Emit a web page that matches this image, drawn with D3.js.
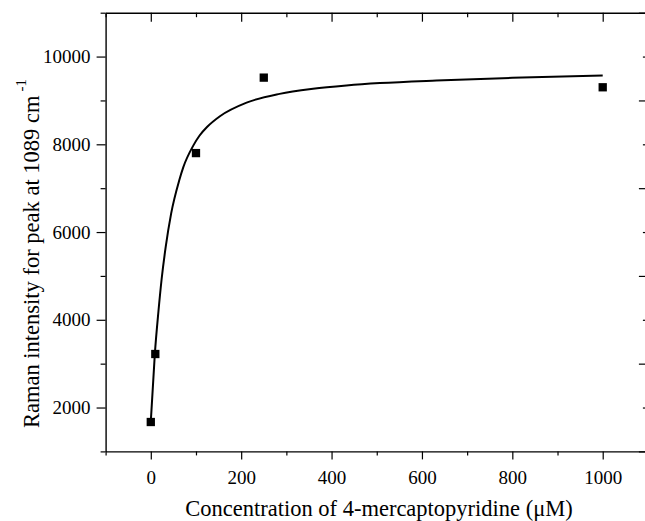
<!DOCTYPE html>
<html>
<head>
<meta charset="utf-8">
<script src="https://cdn.jsdelivr.net/npm/d3@7"></script>
<style>
	body { margin: 0; background: #fff; }
	svg { display: block; }
	svg text { font-family: "Liberation Serif", "Times New Roman", "DejaVu Serif", serif !important; fill: #000; }
</style>
</head>
<body>
<svg id="chart" width="645" height="521"></svg>
<script>
'use strict';

// measured points
var concentration = [0, 10, 100, 250, 1000];
var intensity = [1670, 3220, 7800, 9520, 9300];

// fitted curve
var fitConc = [0, 9, 17, 24, 33, 45, 63, 72, 94, 108, 125, 153, 212, 285, 359, 433, 507, 632, 800, 1000];
var fitIntensity = [1680, 3230, 4200, 4930, 5660, 6420, 7180, 7480, 7970, 8200, 8400, 8640, 8950, 9150, 9265, 9340, 9395, 9455, 9515, 9570];

// ticks
var xMajorTicks = [0, 200, 400, 600, 800, 1000];
var xMinorTicks = [-100, 100, 300, 500, 700, 900, 1100];
var yMajorTicks = [2000, 4000, 6000, 8000, 10000];
var yMinorTicks = [1000, 3000, 5000, 7000, 9000, 11000];

var xTitle = 'Concentration of 4-mercaptopyridine (\u03BCM)';
var yTitle = 'Raman intensity for peak at 1089 cm';

(function(){
	var svg = d3.select('#chart');
	var plotLeft = 105.6, plotRight = 647.9, plotTop = 12.7, plotBottom = 451.4;
	var serif = '"Liberation Serif", "Times New Roman", "DejaVu Serif", serif';

	var x = d3.scaleLinear().domain([-100, 1100]).range([plotLeft, plotRight]);
	var y = d3.scaleLinear().domain([1000, 11000]).range([plotBottom, plotTop]);

	var styleAxis = function(g){
		g.attr('font-family', serif);
		g.select('.domain').attr('stroke', '#000').attr('stroke-width', 1.4);
		g.selectAll('.tick line').attr('stroke', '#000').attr('stroke-width', 1.2);
		g.selectAll('.tick text')
			.attr('font-size', 19)
			.style('font-family', serif)
			.attr('fill', '#000');
	};
	var noDomain = function(g){ g.select('.domain').remove(); };

	// bottom axis: labelled majors + short minors, outward
	svg.append('g')
		.attr('transform', 'translate(0,' + plotBottom + ')')
		.call(d3.axisBottom(x).tickValues(xMinorTicks).tickSize(4).tickSizeOuter(0).tickFormat(''))
		.call(styleAxis);
	svg.append('g')
		.attr('transform', 'translate(0,' + plotBottom + ')')
		.call(d3.axisBottom(x).tickValues(xMajorTicks).tickSize(8).tickSizeOuter(0).tickPadding(11).tickFormat(d3.format('d')))
		.call(styleAxis)
		.call(noDomain);

	// left axis
	svg.append('g')
		.attr('transform', 'translate(' + plotLeft + ',0)')
		.call(d3.axisLeft(y).tickValues(yMinorTicks).tickSize(5).tickSizeOuter(0).tickFormat(''))
		.call(styleAxis);
	svg.append('g')
		.attr('transform', 'translate(' + plotLeft + ',0)')
		.call(d3.axisLeft(y).tickValues(yMajorTicks).tickSize(9).tickSizeOuter(0).tickPadding(6).tickFormat(d3.format('d')))
		.call(styleAxis)
		.call(noDomain);

	// top axis, ticks pointing inward
	svg.append('g')
		.attr('transform', 'translate(0,' + plotTop + ')')
		.call(d3.axisBottom(x).tickValues(xMinorTicks).tickSize(4.5).tickSizeOuter(0).tickFormat(''))
		.call(styleAxis);
	svg.append('g')
		.attr('transform', 'translate(0,' + plotTop + ')')
		.call(d3.axisBottom(x).tickValues(xMajorTicks).tickSize(9).tickSizeOuter(0).tickFormat(''))
		.call(styleAxis)
		.call(noDomain);

	// right axis (mostly off the page), inward; long ticks sit on odd thousands here
	svg.append('g')
		.attr('transform', 'translate(' + plotRight + ',0)')
		.call(d3.axisLeft(y).tickValues(yMajorTicks).tickSize(5).tickSizeOuter(0).tickFormat(''))
		.call(styleAxis);
	svg.append('g')
		.attr('transform', 'translate(' + plotRight + ',0)')
		.call(d3.axisLeft(y).tickValues(yMinorTicks).tickSize(9).tickSizeOuter(0).tickFormat(''))
		.call(styleAxis)
		.call(noDomain);

	// fit curve
	var line = d3.line()
		.x(function(d){ return x(d[0]); })
		.y(function(d){ return y(d[1]); })
		.curve(d3.curveMonotoneX);

	svg.append('path')
		.datum(d3.zip(fitConc, fitIntensity))
		.attr('d', line)
		.attr('fill', 'none')
		.attr('stroke', '#000')
		.attr('stroke-width', 2);

	// squares
	var sz = 8.3;
	svg.append('g')
		.selectAll('rect')
		.data(d3.zip(concentration, intensity))
		.enter()
		.append('rect')
			.attr('x', function(d){ return x(d[0]) - sz / 2; })
			.attr('y', function(d){ return y(d[1]) - sz / 2; })
			.attr('width', sz)
			.attr('height', sz)
			.attr('fill', '#000');

	// titles
	svg.append('text')
		.attr('x', 379)
		.attr('y', 516)
		.attr('text-anchor', 'middle')
		.attr('font-size', 22.5)
		.style('font-family', serif)
		.text(xTitle);

	var yt = svg.append('text')
		.attr('transform', 'translate(39,428) rotate(-90)')
		.attr('text-anchor', 'start')
		.attr('font-size', 22.5)
		.style('font-family', serif);
	yt.append('tspan').text(yTitle);
	yt.append('tspan')
		.attr('dx', 4)
		.attr('dy', -13)
		.attr('font-size', 15)
		.text('-1');
})();
</script>
</body>
</html>
